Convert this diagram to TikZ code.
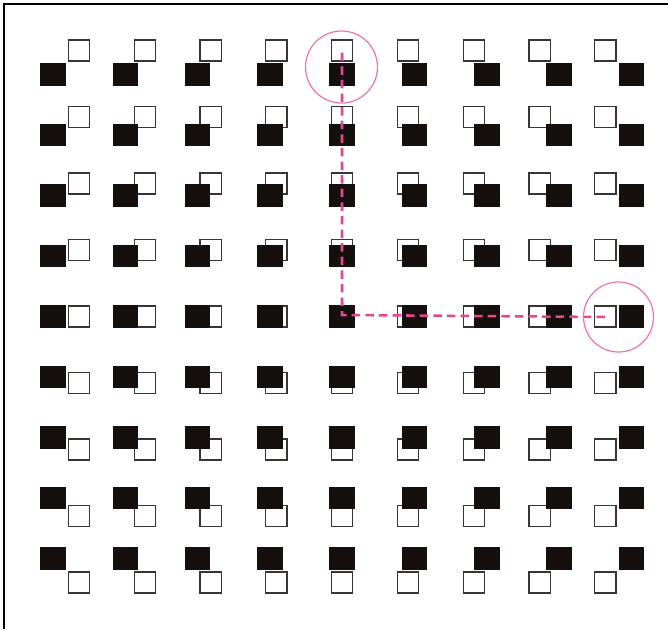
\documentclass[tikz,border=0pt]{standalone}
\definecolor{ink}{HTML}{15100D}
\definecolor{edgegray}{HTML}{3A3432}
\definecolor{hot}{HTML}{E9468A}
\definecolor{ring}{HTML}{EF74A4}
\begin{document}
\begin{tikzpicture}[x=0.75pt,y=-0.75pt,
  solidbox/.style={fill=ink,draw=none,inner sep=0pt,minimum width=19.2pt,minimum height=16.9pt},
  hollowbox/.style={draw=edgegray,fill=white,line width=0.9pt,inner sep=0pt,minimum size=15.8pt},
  pathline/.style={hot,line width=1.9pt,dash pattern=on 6.4pt off 3.8pt},
  ringline/.style={ring,line width=0.9pt}]
\useasboundingbox (0,0) rectangle (668,629);
\draw[line width=1.4pt,black] (4,629) -- (4,4) -- (668,4);
\foreach \r in {1,...,9}{
  \foreach \c in {1,...,9}{
    \pgfmathsetmacro\bx{53+72.3*(\c-1)}
    \pgfmathsetmacro\by{74.5+60.5*(\r-1)}
    \pgfmathsetmacro\ox{\bx+6.5*(5-\c)}
    \pgfmathsetmacro\oy{\by+6*(\r-5)}
    \node[hollowbox] (o\r-\c) at (\ox,\oy) {};
  }
}
\foreach \r in {1,...,9}{
  \foreach \c in {1,...,9}{
    \pgfmathsetmacro\bx{53+72.3*(\c-1)}
    \pgfmathsetmacro\by{74.5+60.5*(\r-1)}
    \node[solidbox] (b\r-\c) at (\bx,\by) {};
  }
}
\coordinate (pstart) at (342,52.7);
\coordinate (pcorner) at (342,315);
\coordinate (pend) at (607,317);
\draw[pathline] (pstart) -- (pcorner) -- (pend);
\draw[ringline] (341.5,67) circle [radius=36];
\draw[ringline] (618.5,317) circle [radius=35];
\end{tikzpicture}
\end{document}
